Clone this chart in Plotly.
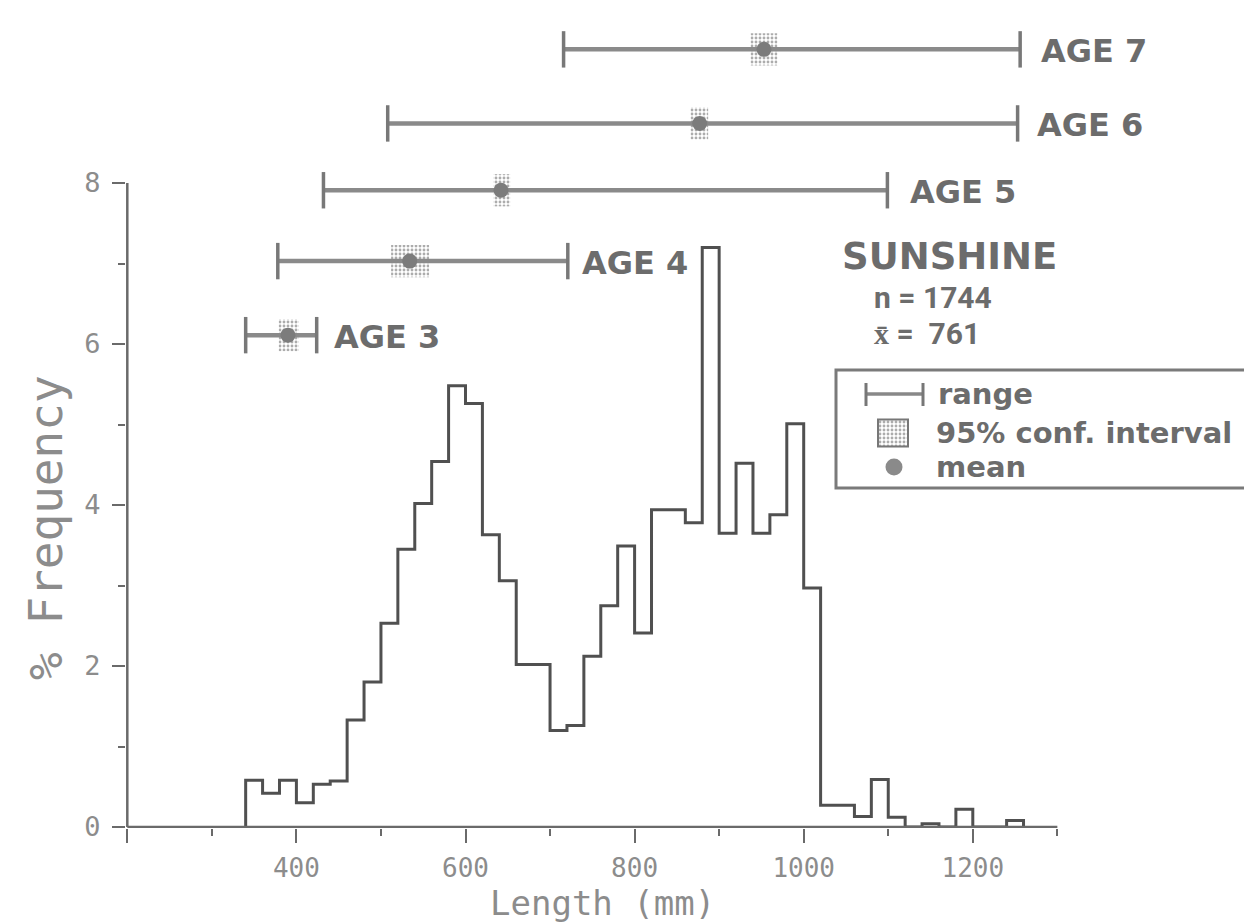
import plotly.graph_objects as go

# ---------------- data ----------------
bin_left = [340, 360, 380, 400, 420, 440, 460, 480, 500, 520, 540, 560, 580, 600,
            620, 640, 660, 680, 700, 720, 740, 760, 780, 800, 820, 840, 860, 880,
            900, 920, 940, 960, 980, 1000, 1020, 1040, 1060, 1080, 1100, 1120,
            1140, 1160, 1180, 1200, 1220, 1240]
bin_width = 20
freq_pct = [0.58, 0.42, 0.58, 0.30, 0.53, 0.57, 1.33, 1.80, 2.53, 3.45, 4.02, 4.54,
            5.48, 5.26, 3.63, 3.06, 2.02, 2.02, 1.20, 1.26, 2.12, 2.75, 3.49, 2.41,
            3.94, 3.94, 3.78, 7.20, 3.65, 4.52, 3.65, 3.88, 5.01, 2.97, 0.27, 0.27,
            0.13, 0.59, 0.12, 0.00, 0.04, 0.00, 0.22, 0.00, 0.00, 0.08]

age_labels = ["AGE 3", "AGE 4", "AGE 5", "AGE 6", "AGE 7"]
age_level = [6.11, 7.03, 7.91, 8.74, 9.66]      # vertical placement (y units)
range_lo = [340, 378, 432, 508, 716]
range_hi = [424, 721, 1099, 1253, 1256]
age_mean = [390, 534, 642, 877, 953]
ci_lo = [379, 512, 633, 866, 937]
ci_hi = [403, 557, 653, 887, 969]

x_major_ticks = [200, 400, 600, 800, 1000, 1200]
x_tick_text = ["", "400", "600", "800", "1000", "1200"]
x_minor_ticks = [300, 500, 700, 900, 1100, 1300]
y_major_ticks = [0, 2, 4, 6, 8]
y_tick_text = ["0", "2", "4", "6", "8"]
y_minor_ticks = [1, 3, 5, 7]

site_name = "SUNSHINE"
n_text = "n = 1744"
mean_text = "x\u0304 =  761"

# ---------------- geometry helpers ----------------
W, H = 1252, 924
ML, MR, MT, MB = 118, 2, 4, 104
PX_PER_MM = 0.8455
X200_PX = 119.3
PX_PER_UNIT = 80.5
Y0_PX = 819.0


def mm_at(px):
    return 200 + (px - X200_PX) / PX_PER_MM


def val_at(py):
    return (Y0_PX - py) / PX_PER_UNIT


def paper_x(px):
    return (px - ML) / (W - ML - MR)


def paper_y(py):
    return (H - MB - py) / (H - MT - MB)


x_range = [mm_at(ML), mm_at(W - MR)]
y_range = [val_at(H - MB), val_at(MT)]

AX = "#6a6a6a"
TXT = "#6c6c6c"
LIGHT = "#8c8c8c"
MONO = "DejaVu Sans Mono"
BOLD = "DejaVu Sans"

stipple = dict(shape=".", fgcolor="#5a5a5a", bgcolor="white",
               size=4, solidity=0.4, fillmode="overlay")

fig = go.Figure()

# 95% confidence boxes (stippled)
fig.add_trace(go.Bar(
    orientation="h", y=age_level, base=ci_lo,
    x=[h - l for l, h in zip(ci_lo, ci_hi)], width=0.4,
    marker=dict(color="white", line=dict(width=0), pattern=stipple),
    hoverinfo="skip"))

# legend square (stippled)
fig.add_trace(go.Bar(
    orientation="h", y=[val_at(425)], base=[mm_at(870)],
    x=[mm_at(900) - mm_at(870)], width=27 / PX_PER_UNIT,
    marker=dict(color="white", line=dict(width=2, color="#777777"), pattern=stipple),
    hoverinfo="skip"))

# histogram outline
hx = [bin_left[0]] + bin_left + [bin_left[-1] + bin_width]
hy = [0] + freq_pct + [0]
fig.add_trace(go.Scatter(x=hx, y=hy, mode="lines", line_shape="hv",
                         line=dict(color="#505050", width=3), hoverinfo="skip"))

# range bars
for lo, hi, lv in zip(range_lo, range_hi, age_level):
    fig.add_trace(go.Scatter(x=[lo, hi], y=[lv, lv], mode="lines",
                             line=dict(color="#8a8a8a", width=4.5), hoverinfo="skip"))
fig.add_trace(go.Scatter(
    x=range_lo + range_hi, y=age_level + age_level, mode="markers",
    marker=dict(symbol="line-ns", size=26, line=dict(width=3.5, color="#787878")),
    hoverinfo="skip"))

# means
fig.add_trace(go.Scatter(x=age_mean, y=age_level, mode="markers",
                         marker=dict(symbol="circle", size=15, color="#7c7c7c"),
                         hoverinfo="skip"))
fig.add_trace(go.Scatter(x=[mm_at(886)], y=[val_at(459)], mode="markers",
                         marker=dict(symbol="circle", size=17, color="#8a8a8a"),
                         hoverinfo="skip"))

shapes = [
    dict(type="line", x0=200, x1=1300, y0=0, y1=0, line=dict(color=AX, width=2.5)),
    dict(type="line", x0=200, x1=200, y0=0, y1=8, line=dict(color=AX, width=2.5)),
    # legend box
    dict(type="rect", x0=mm_at(828), x1=mm_at(1245), y0=val_at(480), y1=val_at(362),
         line=dict(color="#7a7a7a", width=3)),
    # legend range symbol
    dict(type="line", x0=mm_at(858), x1=mm_at(915), y0=val_at(386), y1=val_at(386),
         line=dict(color="#888888", width=3.5)),
    dict(type="line", x0=mm_at(858), x1=mm_at(858), y0=val_at(375), y1=val_at(398),
         line=dict(color="#777777", width=3)),
    dict(type="line", x0=mm_at(915), x1=mm_at(915), y0=val_at(375), y1=val_at(398),
         line=dict(color="#777777", width=3)),
]

annotations = []
age_gap = [15, 12, 21, 17, 19]
for lab, hi, lv, g in zip(age_labels, range_hi, age_level, age_gap):
    annotations.append(dict(x=hi, y=lv, xref="x", yref="y", text=lab, showarrow=False,
                            xanchor="left", yanchor="middle", xshift=g, yshift=-2,
                            font=dict(family=BOLD, size=32, color=TXT, weight="bold")))


def ptxt(px, py, text, size, family=BOLD, color=TXT, bold=True, xanchor="left", angle=0):
    return dict(x=paper_x(px), y=paper_y(py), xref="paper", yref="paper", text=text,
                showarrow=False, xanchor=xanchor, yanchor="middle", textangle=angle,
                font=dict(family=family, size=size, color=color,
                          weight="bold" if bold else "normal"))


annotations += [
    ptxt(832, 248, site_name, 37),
    ptxt(864, 289, n_text, 30, family="Roboto"),
    ptxt(864, 325, mean_text, 30, family="Roboto"),
    ptxt(928, 386, "range", 29),
    ptxt(926, 425, "95% conf. interval", 29),
    ptxt(926, 459, "mean", 29),
    ptxt(594, 895, "Length (mm)", 34, family=MONO, color=LIGHT, bold=False, xanchor="center"),
    ptxt(38, 520, "% Frequency", 46, family=MONO, color=LIGHT, bold=False,
         xanchor="center", angle=-90),
]

fig.update_layout(
    width=W, height=H, margin=dict(l=ML, r=MR, t=MT, b=MB),
    paper_bgcolor="white", plot_bgcolor="white", showlegend=False, barmode="overlay",
    shapes=shapes, annotations=annotations,
    xaxis=dict(range=x_range, showline=False, showgrid=False, zeroline=False,
               ticks="outside", ticklen=14, tickwidth=2, tickcolor=AX,
               tickmode="array", tickvals=x_major_ticks, ticktext=x_tick_text,
               ticklabelstandoff=3,
               tickfont=dict(family=MONO, size=26, color=LIGHT),
               minor=dict(tickmode="array", tickvals=x_minor_ticks, ticks="outside",
                          ticklen=7, tickwidth=2, tickcolor=AX)),
    yaxis=dict(range=y_range, showline=False, showgrid=False, zeroline=False,
               ticks="outside", ticklen=13, tickwidth=2, tickcolor=AX,
               tickmode="array", tickvals=y_major_ticks, ticktext=y_tick_text,
               ticklabelstandoff=6,
               tickfont=dict(family=MONO, size=27, color=LIGHT),
               minor=dict(tickmode="array", tickvals=y_minor_ticks, ticks="outside",
                          ticklen=7, tickwidth=2, tickcolor=AX)),
)

fig.write_html("out.html")
